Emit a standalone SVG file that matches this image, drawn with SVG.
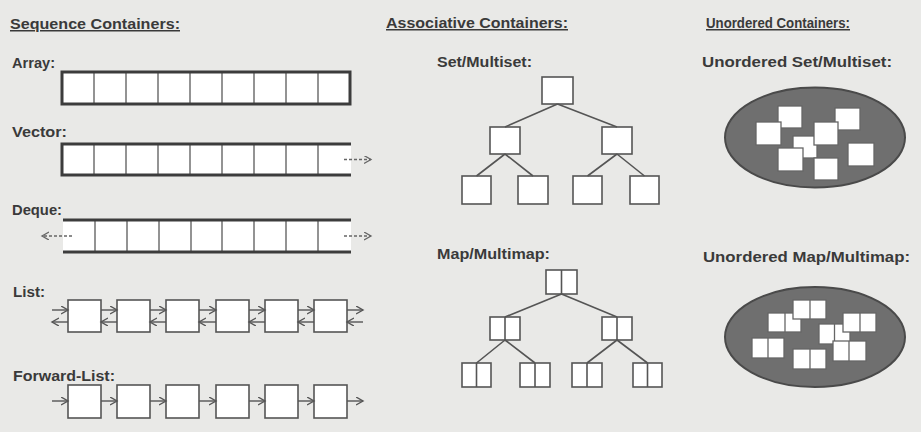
<svg xmlns="http://www.w3.org/2000/svg" width="921" height="432" viewBox="0 0 921 432">
<style>
text{font-family:"Liberation Sans",Arial,sans-serif;font-weight:bold;fill:#3a3a3a;font-size:14px}
.h{text-decoration:underline;font-size:15px}
.box{fill:#fff;stroke:#555;stroke-width:1.6}
.cell{stroke:#666;stroke-width:1.4}
.thick{stroke:#3c3c3c;stroke-width:3;fill:none}
.edge{stroke:#555;stroke-width:1.6;fill:none}
.arr{stroke:#555;stroke-width:1.4;fill:none}
.dash{stroke:#666;stroke-width:1.3;fill:none;stroke-dasharray:3 2}
.ell{fill:#6f6f6f;stroke:#4a4a4a;stroke-width:2}
.sq{fill:#fff;stroke:#666;stroke-width:1.3}
</style>
<defs>
<marker id="ah" markerUnits="userSpaceOnUse" markerWidth="10" markerHeight="10" refX="7" refY="4" orient="auto">
<path d="M0,0 L7,4 L0,8" fill="none" stroke="#555" stroke-width="1.4"/>
</marker>
<marker id="dh" markerUnits="userSpaceOnUse" markerWidth="10" markerHeight="10" refX="7" refY="4" orient="auto">
<path d="M0,0 L7,4 L0,8" fill="none" stroke="#666" stroke-width="1.3"/>
</marker>
</defs>
<rect width="921" height="432" fill="#e9e9e7"/>

<g id="headings">
<text class="h" x="10" y="29" textLength="170" lengthAdjust="spacingAndGlyphs">Sequence Containers:</text>
<text class="h" x="386" y="28" textLength="182" lengthAdjust="spacingAndGlyphs">Associative Containers:</text>
<text class="h" x="706" y="28" textLength="144" lengthAdjust="spacingAndGlyphs">Unordered Containers:</text>
</g>

<g id="array">
<text x="12" y="68" textLength="43" lengthAdjust="spacingAndGlyphs">Array:</text>
<rect x="62" y="72" width="288" height="32" fill="#fff"/>
<path class="cell" d="M94,72V104M126,72V104M158,72V104M190,72V104M222,72V104M254,72V104M286,72V104M318,72V104"/>
<rect class="thick" x="62" y="72" width="288" height="32"/>
</g>

<g id="vector">
<text x="12" y="137" textLength="55" lengthAdjust="spacingAndGlyphs">Vector:</text>
<rect x="62" y="144" width="289" height="31" fill="#fff"/>
<path class="cell" d="M94,144V175M126,144V175M158,144V175M190,144V175M222,144V175M254,144V175M286,144V175M318,144V175"/>
<path class="thick" d="M351,144H62V175H351"/>
<line class="dash" x1="344" y1="159.5" x2="371" y2="159.5" marker-end="url(#dh)"/>
</g>

<g id="deque">
<text x="12" y="215" textLength="50" lengthAdjust="spacingAndGlyphs">Deque:</text>
<rect x="63" y="220" width="288" height="32" fill="#fff"/>
<path class="cell" d="M95,220V252M127,220V252M159,220V252M191,220V252M222,220V252M254,220V252M286,220V252M318,220V252"/>
<path class="thick" d="M63,220H351M63,252H351"/>
<line class="dash" x1="72" y1="236" x2="42" y2="236" marker-end="url(#dh)"/>
<line class="dash" x1="344" y1="236" x2="371" y2="236" marker-end="url(#dh)"/>
</g>

<g id="list">
<text x="13" y="297" textLength="32" lengthAdjust="spacingAndGlyphs">List:</text>
<rect class="box" x="68" y="300" width="33" height="32"/>
<rect class="box" x="117" y="300" width="33" height="32"/>
<rect class="box" x="166" y="300" width="33" height="32"/>
<rect class="box" x="216" y="300" width="33" height="32"/>
<rect class="box" x="265" y="300" width="33" height="32"/>
<rect class="box" x="314" y="300" width="33" height="32"/>
</g>

<g id="forward-list">
<text x="13" y="381" textLength="102" lengthAdjust="spacingAndGlyphs">Forward-List:</text>
<rect class="box" x="68" y="385" width="33" height="33"/>
<rect class="box" x="117" y="385" width="33" height="33"/>
<rect class="box" x="166" y="385" width="33" height="33"/>
<rect class="box" x="216" y="385" width="33" height="33"/>
<rect class="box" x="265" y="385" width="33" height="33"/>
<rect class="box" x="314" y="385" width="33" height="33"/>
</g>

<g id="set-tree">
<text x="437" y="67" textLength="95" lengthAdjust="spacingAndGlyphs">Set/Multiset:</text>
<rect class="box" x="542" y="77" width="31" height="27"/>
<rect class="box" x="490" y="127" width="30" height="27"/>
<rect class="box" x="602" y="127" width="30" height="27"/>
<rect class="box" x="462" y="176" width="29" height="28"/>
<rect class="box" x="518" y="176" width="30" height="28"/>
<rect class="box" x="573" y="176" width="29" height="28"/>
<rect class="box" x="630" y="176" width="29" height="28"/>
</g>

<g id="map-tree">
<text x="437" y="259" textLength="113" lengthAdjust="spacingAndGlyphs">Map/Multimap:</text>
<rect class="box" x="546" y="270" width="31" height="24"/><line class="edge" x1="561.5" y1="270" x2="561.5" y2="294"/>
<rect class="box" x="490" y="317" width="30" height="23"/><line class="edge" x1="505" y1="317" x2="505" y2="340"/>
<rect class="box" x="602" y="317" width="30" height="23"/><line class="edge" x1="617" y1="317" x2="617" y2="340"/>
<rect class="box" x="462" y="363" width="29" height="24"/><line class="edge" x1="476.5" y1="363" x2="476.5" y2="387"/>
<rect class="box" x="520" y="363" width="30" height="24"/><line class="edge" x1="535" y1="363" x2="535" y2="387"/>
<rect class="box" x="572" y="363" width="30" height="24"/><line class="edge" x1="587" y1="363" x2="587" y2="387"/>
<rect class="box" x="633" y="363" width="29" height="24"/><line class="edge" x1="647.5" y1="363" x2="647.5" y2="387"/>
</g>

<g id="unordered-set">
<text x="702" y="67" textLength="190" lengthAdjust="spacingAndGlyphs">Unordered Set/Multiset:</text>
<ellipse class="ell" cx="815" cy="137.5" rx="90" ry="50"/>
<rect class="sq" x="793" y="136" width="24" height="22"/>
<rect class="sq" x="778" y="106" width="24" height="22"/>
<rect class="sq" x="835" y="108" width="25" height="22"/>
<rect class="sq" x="756" y="122" width="25" height="23"/>
<rect class="sq" x="814" y="122" width="24" height="23"/>
<rect class="sq" x="778" y="148" width="25" height="23"/>
<rect class="sq" x="848" y="143" width="26" height="23"/>
<rect class="sq" x="814" y="158" width="24" height="22"/>
</g>

<g id="unordered-map">
<text x="703" y="262" textLength="207" lengthAdjust="spacingAndGlyphs">Unordered Map/Multimap:</text>
<ellipse class="ell" cx="815" cy="337" rx="90" ry="50"/>
<rect class="sq" x="819" y="324" width="31" height="20"/><line class="sq" x1="834.5" y1="324" x2="834.5" y2="344"/>
<rect class="sq" x="768" y="313" width="33" height="19"/><line class="sq" x1="785" y1="313" x2="785" y2="332"/>
<rect class="sq" x="793" y="300" width="33" height="19"/><line class="sq" x1="810" y1="300" x2="810" y2="319"/>
<rect class="sq" x="843" y="313" width="33" height="19"/><line class="sq" x1="860" y1="313" x2="860" y2="332"/>
<rect class="sq" x="752" y="338" width="32" height="20"/><line class="sq" x1="768" y1="338" x2="768" y2="358"/>
<rect class="sq" x="833" y="341" width="33" height="20"/><line class="sq" x1="849" y1="341" x2="849" y2="361"/>
<rect class="sq" x="793" y="349" width="33" height="20"/><line class="sq" x1="810" y1="349" x2="810" y2="369"/>
</g>

<g id="connectors">
<path class="edge" d="M557.5,104L505,127M557.5,104L617,127M505,154L476.5,176M505,154L533,176M617,154L587.5,176M617,154L644.5,176"/>
<path class="edge" d="M561.5,294L505,317M561.5,294L617,317M505,340L476.5,363M505,340L535,363M617,340L587,363M617,340L647.5,363"/>
<g class="arr">
<line x1="52" y1="310" x2="68" y2="310" marker-end="url(#ah)"/><line x1="68" y1="322" x2="52" y2="322" marker-end="url(#ah)"/>
<line x1="101" y1="310" x2="117" y2="310" marker-end="url(#ah)"/><line x1="117" y1="322" x2="101" y2="322" marker-end="url(#ah)"/>
<line x1="150" y1="310" x2="166" y2="310" marker-end="url(#ah)"/><line x1="166" y1="322" x2="150" y2="322" marker-end="url(#ah)"/>
<line x1="199" y1="310" x2="216" y2="310" marker-end="url(#ah)"/><line x1="216" y1="322" x2="199" y2="322" marker-end="url(#ah)"/>
<line x1="249" y1="310" x2="265" y2="310" marker-end="url(#ah)"/><line x1="265" y1="322" x2="249" y2="322" marker-end="url(#ah)"/>
<line x1="298" y1="310" x2="314" y2="310" marker-end="url(#ah)"/><line x1="314" y1="322" x2="298" y2="322" marker-end="url(#ah)"/>
<line x1="347" y1="310" x2="363" y2="310" marker-end="url(#ah)"/><line x1="363" y1="322" x2="347" y2="322" marker-end="url(#ah)"/>
<line x1="52" y1="401" x2="68" y2="401" marker-end="url(#ah)"/>
<line x1="101" y1="401" x2="117" y2="401" marker-end="url(#ah)"/>
<line x1="150" y1="401" x2="166" y2="401" marker-end="url(#ah)"/>
<line x1="199" y1="401" x2="216" y2="401" marker-end="url(#ah)"/>
<line x1="249" y1="401" x2="265" y2="401" marker-end="url(#ah)"/>
<line x1="298" y1="401" x2="314" y2="401" marker-end="url(#ah)"/>
<line x1="347" y1="401" x2="363" y2="401" marker-end="url(#ah)"/>
</g>
</g>
</svg>
